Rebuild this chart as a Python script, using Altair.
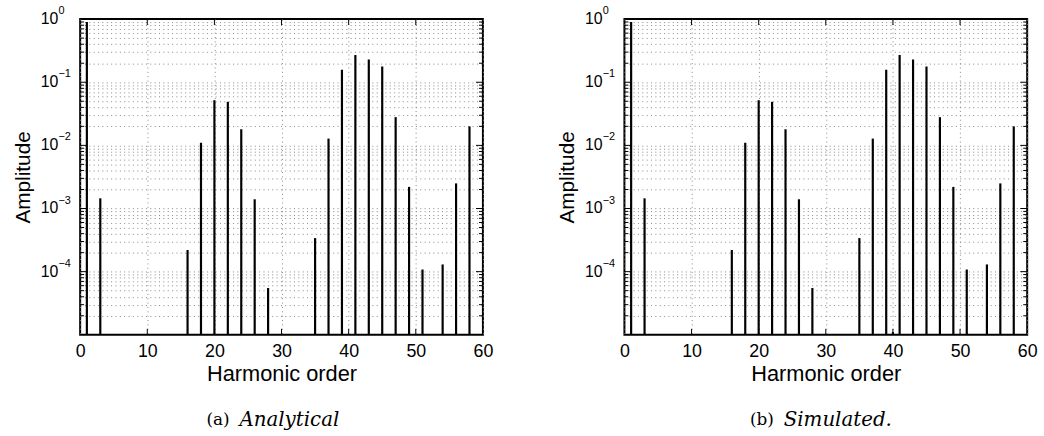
import altair as alt
import pandas as pd

# ---- data ----
orders_a = [1, 3, 16, 18, 20, 22, 24, 26, 28, 35, 37, 39, 41, 43, 45, 47, 49, 51, 54, 56, 58]
amp_a = [0.9, 1.45e-3, 2.2e-4, 0.011, 0.052, 0.049, 0.018, 1.4e-3, 5.5e-5, 3.4e-4,
         0.0128, 0.158, 0.27, 0.23, 0.178, 0.028, 2.2e-3, 1.08e-4, 1.3e-4, 2.5e-3, 0.020]
orders_s = [1, 3, 16, 18, 20, 22, 24, 26, 28, 35, 37, 39, 40, 41, 43, 45, 47, 49, 51, 54, 56, 58]
amp_s = [0.9, 1.45e-3, 2.2e-4, 0.011, 0.052, 0.049, 0.018, 1.4e-3, 5.5e-5, 3.4e-4,
         0.0128, 0.158, 1.1e-5, 0.27, 0.23, 0.178, 0.028, 2.2e-3, 1.08e-4, 1.3e-4, 2.5e-3, 0.020]

decades = [1, 0.1, 0.01, 0.001, 0.0001]
exponents = ["0", "\u22121", "\u22122", "\u22123", "\u22124"]
minor_vals = [m * 10.0 ** k for k in range(-5, 0) for m in range(2, 10)]
major_vals = [1e-4, 1e-3, 1e-2, 1e-1]
x_label_vals = [0, 10, 20, 30, 40, 50, 60]
x_inner = [10, 20, 30, 40, 50]

W, H = 407, 319
SANS = "Liberation Sans"
SERIF = "DejaVu Serif"
GRID = dict(grid=True, gridDash=[1, 3.4], gridColor="#888", gridWidth=1)

XAXIS = alt.Axis(
    values=x_label_vals, title="Harmonic order", **GRID,
    ticks=False, domain=False, labelFont=SANS, labelFontSize=18,
    labelFlush=False, labelOverlap=False,
    labelColor="black", labelPadding=8, titleFont=SANS,
    titleFontSize=22, titleFontWeight="normal", titleColor="black",
    titlePadding=3)
YAXIS = alt.Axis(
    values=minor_vals + major_vals, labels=False, ticks=False,
    domain=False, **GRID, title="Amplitude", titleFont=SANS, titleFontSize=21,
    titleFontWeight="normal", titleColor="black", titlePadding=47)


def panel(orders, amps, tag, name):
    xs = alt.Scale(domain=[0, 60], nice=False, zero=False, padding=0)
    ys = alt.Scale(type="log", domain=[1e-5, 1], nice=False)
    df = pd.DataFrame({"order": orders, "amp": amps, "base": [1e-5] * len(orders)})

    def X(f):
        return alt.X(f, scale=xs, axis=XAXIS, title="Harmonic order")

    def Y(f):
        return alt.Y(f, scale=ys, axis=YAXIS, title="Amplitude")

    bars = alt.Chart(df).mark_bar(width=2.2, color="black", clip=False).encode(
        x=X("order:Q"), y=Y("amp:Q"), y2="base:Q")

    mdf = pd.DataFrame({"v": minor_vals})
    jdf = pd.DataFrame({"v": major_vals})
    xdf = pd.DataFrame({"x": x_inner})
    tick_style = dict(color="black", strokeWidth=1)
    t1 = alt.Chart(mdf).mark_rule(**tick_style).encode(
        y=Y("v:Q"), x=alt.value(0), x2=alt.value(4))
    t2 = alt.Chart(mdf).mark_rule(**tick_style).encode(
        y=Y("v:Q"), x=alt.value(W), x2=alt.value(W - 4))
    t3 = alt.Chart(jdf).mark_rule(**tick_style).encode(
        y=Y("v:Q"), x=alt.value(0), x2=alt.value(7))
    t4 = alt.Chart(jdf).mark_rule(**tick_style).encode(
        y=Y("v:Q"), x=alt.value(W), x2=alt.value(W - 7))
    t5 = alt.Chart(xdf).mark_rule(**tick_style).encode(
        x=X("x:Q"), y=alt.value(H), y2=alt.value(H - 6))
    t6 = alt.Chart(xdf).mark_rule(**tick_style).encode(
        x=X("x:Q"), y=alt.value(0), y2=alt.value(6))

    ldf = pd.DataFrame({"v": decades, "lab": ["10"] * len(decades), "exp": exponents})
    base_txt = alt.Chart(ldf).mark_text(
        align="right", baseline="middle", font=SANS, fontSize=16, color="black"
    ).encode(y=Y("v:Q"), x=alt.value(-22), text="lab:N")
    exp_txt = alt.Chart(ldf).mark_text(
        align="left", baseline="middle", font=SANS, fontSize=11, color="black", dy=-8
    ).encode(y=Y("v:Q"), x=alt.value(-22), text="exp:N")

    cdf = pd.DataFrame({"tag": [tag], "name": [name]})
    cap1 = alt.Chart(cdf).mark_text(
        align="right", baseline="middle", font=SERIF, fontSize=17, color="black"
    ).encode(x=alt.value(151), y=alt.value(405), text="tag:N")
    cap2 = alt.Chart(cdf).mark_text(
        align="left", baseline="middle", font=SERIF, fontSize=20, fontStyle="italic",
        color="black"
    ).encode(x=alt.value(161), y=alt.value(405), text="name:N")

    return alt.layer(t1, t2, t3, t4, t5, t6, base_txt, exp_txt, cap1, cap2, bars).properties(
        width=W, height=H)


left = panel(orders_a, amp_a, "(a)", "Analytical")
right = panel(orders_s, amp_s, "(b)", "Simulated.")

chart = alt.hconcat(left, right, spacing=62).configure_view(
    stroke="black", strokeWidth=2
).properties(padding={"left": 12, "top": 2, "right": 5, "bottom": 5}, background="white")

chart.save("out.html", embed_options={"renderer": "svg", "actions": False})
